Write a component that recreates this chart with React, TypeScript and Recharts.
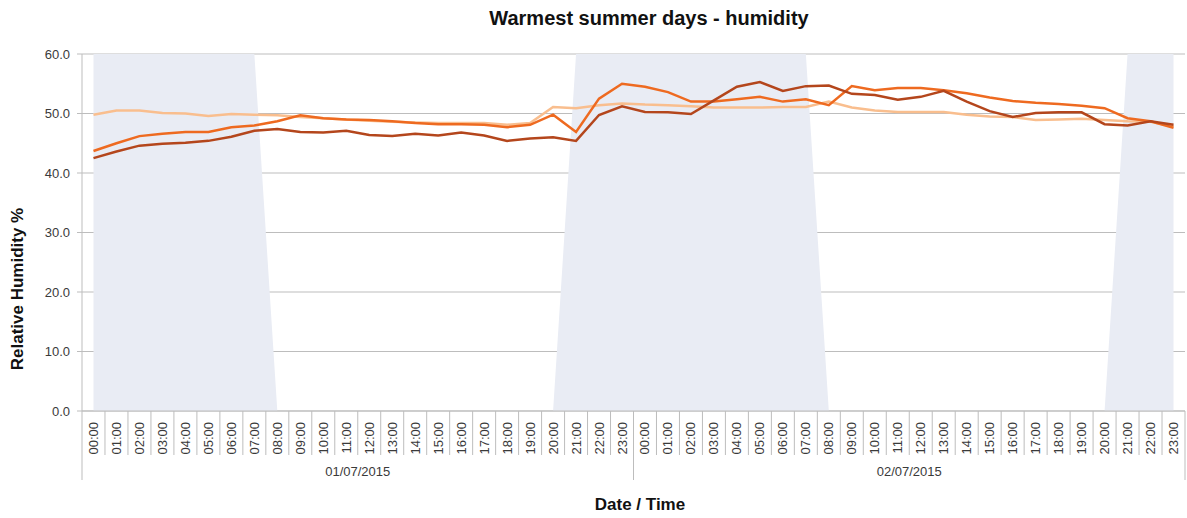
import React from 'react';
import { ComposedChart, Line, Area, XAxis, YAxis, CartesianGrid, Label } from 'recharts';

const hours = [
  '00:00', '01:00', '02:00', '03:00', '04:00', '05:00', '06:00', '07:00', '08:00', '09:00', '10:00', '11:00',
  '12:00', '13:00', '14:00', '15:00', '16:00', '17:00', '18:00', '19:00', '20:00', '21:00', '22:00', '23:00',
];
const dates = ['01/07/2015', '02/07/2015'];

const seriesLight = [
  49.8, 50.5, 50.5, 50.1, 50.0, 49.6, 49.9, 49.8, 49.7, 49.4, 49.2, 49.0, 48.8, 48.6, 48.5, 48.4, 48.4, 48.4, 48.1, 48.4, 51.1, 50.9, 51.4, 51.7,
  51.5, 51.4, 51.2, 51.0, 51.0, 51.0, 51.1, 51.1, 52.0, 51.0, 50.5, 50.25, 50.25, 50.25, 49.8, 49.5, 49.4, 48.9, 49.0, 49.1, 48.9, 48.7, 48.6, 47.8,
];
const seriesMid = [
  43.7, 45.0, 46.2, 46.6, 46.9, 46.9, 47.7, 48.0, 48.7, 49.7, 49.2, 49.0, 48.9, 48.7, 48.4, 48.2, 48.2, 48.1, 47.7, 48.1, 49.8, 46.9, 52.5, 55.0,
  54.5, 53.6, 52.0, 52.0, 52.4, 52.8, 52.0, 52.4, 51.4, 54.6, 53.9, 54.3, 54.3, 53.9, 53.4, 52.7, 52.1, 51.8, 51.6, 51.3, 50.9, 49.2, 48.7, 47.6,
];
const seriesDark = [
  42.5, 43.6, 44.6, 44.9, 45.1, 45.4, 46.1, 47.1, 47.4, 46.9, 46.8, 47.1, 46.4, 46.2, 46.6, 46.3, 46.8, 46.3, 45.4, 45.8, 46.0, 45.4, 49.75, 51.2,
  50.25, 50.2, 49.9, 52.2, 54.5, 55.3, 53.8, 54.6, 54.7, 53.3, 53.1, 52.3, 52.8, 53.8, 52.0, 50.4, 49.4, 50.1, 50.2, 50.2, 48.2, 48.0, 48.7, 48.1,
];
const night = [
  60, 60, 60, 60, 60, 60, 60, 60, 0, 0, 0, 0, 0, 0, 0, 0, 0, 0, 0, 0, 0, 60, 60, 60,
  60, 60, 60, 60, 60, 60, 60, 60, 0, 0, 0, 0, 0, 0, 0, 0, 0, 0, 0, 0, 0, 60, 60, 60,
];
const yTicks = [0, 10, 20, 30, 40, 50, 60];

const data = dates.flatMap((d, di) =>
  hours.map((h, hi) => {
    const i = di * hours.length + hi;
    return { key: `${d} ${h}`, hour: h, date: d, light: seriesLight[i], mid: seriesMid[i], dark: seriesDark[i], night: night[i] };
  })
);

const W = 1187;
const H = 518;
const LEFT = 82;
const RIGHT = 2;
const TOP = 54;
const XH = 107;
const PLOT_W = W - LEFT - RIGHT;
const BAND = PLOT_W / data.length;
const AXIS_Y = H - XH;
const FONT = "'Liberation Sans', Arial, Helvetica, sans-serif";
const GRID = '#BDBDBD';
const TEXT = '#3A3A3A';

const XTick = (props: any) => {
  const { x, payload } = props;
  const idx = payload.index as number;
  const item = data[idx];
  const left = x - BAND / 2;
  const hi = idx % hours.length;
  const out: React.ReactNode[] = [];
  out.push(<line key="s" x1={left} x2={left} y1={AXIS_Y} y2={hi === 0 ? AXIS_Y + 69 : AXIS_Y + 44} stroke={GRID} strokeWidth={1} />);
  if (idx === data.length - 1) {
    out.push(<line key="e" x1={x + BAND / 2} x2={x + BAND / 2} y1={AXIS_Y} y2={AXIS_Y + 69} stroke={GRID} strokeWidth={1} />);
  }
  out.push(
    <text key="t" transform={`translate(${x},${AXIS_Y + 11}) rotate(-90)`} textAnchor="end" dominantBaseline="central" fontSize={13} fill={TEXT} fontFamily={FONT}>
      {item ? item.hour : payload.value}
    </text>
  );
  if (hi === 0 && item) {
    out.push(
      <text key="d" x={left + (BAND * hours.length) / 2} y={AXIS_Y + 60} textAnchor="middle" dominantBaseline="central" fontSize={13} fill={TEXT} fontFamily={FONT}>
        {item.date}
      </text>
    );
  }
  return <g>{out}</g>;
};

export default function App() {
  return (
    <div style={{ position: 'absolute', left: 0, top: 0, width: W, height: H, background: '#fff', fontFamily: FONT }}>
      <div style={{ position: 'absolute', left: 0, top: 6, width: 1298, textAlign: 'center', fontWeight: 'bold', fontSize: 20, color: '#111', lineHeight: '24px' }}>
        Warmest summer days - humidity
      </div>
      <div style={{ position: 'absolute', left: 0, top: 493, width: 1280, textAlign: 'center', fontWeight: 'bold', fontSize: 17, color: '#111', lineHeight: '24px' }}>
        Date / Time
      </div>
      <ComposedChart width={W} height={H} data={data} margin={{ top: TOP, right: RIGHT, bottom: 0, left: 0 }}>
        <CartesianGrid vertical={false} stroke={GRID} strokeDasharray="" />
        <XAxis dataKey="key" type="category" scale="band" interval={0} height={XH} tickLine={false} axisLine={{ stroke: GRID }} tick={<XTick />} />
        <YAxis
          width={LEFT}
          domain={[0, 60]}
          ticks={yTicks}
          type="number"
          tickFormatter={(v: number) => v.toFixed(1)}
          tick={{ fontSize: 13, fill: TEXT, fontFamily: FONT }}
          tickLine={{ stroke: GRID }}
          tickSize={5}
          tickMargin={7}
          axisLine={{ stroke: GRID }}
        >
          <Label
            content={() => (
              <text transform={`translate(23,289) rotate(-90)`} textAnchor="middle" fontWeight="bold" fontSize={17} fill="#111" fontFamily={FONT}>
                Relative Humidity %
              </text>
            )}
          />
        </YAxis>
        <Area type="linear" dataKey="night" fill="#E9ECF4" fillOpacity={1} stroke="none" isAnimationActive={false} dot={false} activeDot={false} />
        <Line type="linear" dataKey="light" stroke="#F9BE8E" strokeWidth={2.5} dot={false} activeDot={false} isAnimationActive={false} />
        <Line type="linear" dataKey="mid" stroke="#EE6A20" strokeWidth={2.5} dot={false} activeDot={false} isAnimationActive={false} />
        <Line type="linear" dataKey="dark" stroke="#B4461C" strokeWidth={2.5} dot={false} activeDot={false} isAnimationActive={false} />
      </ComposedChart>
    </div>
  );
}
